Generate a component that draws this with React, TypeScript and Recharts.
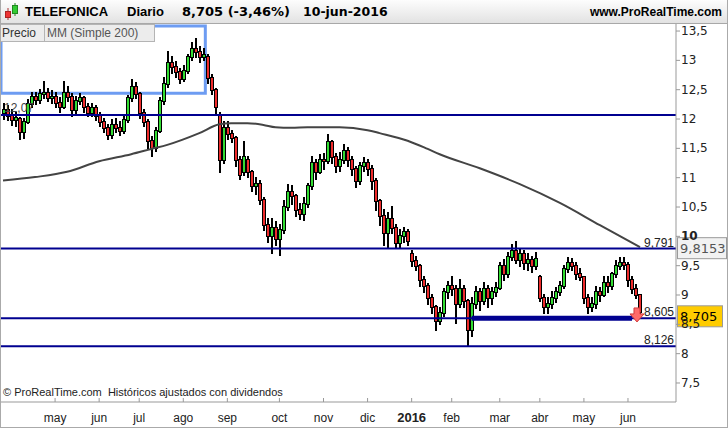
import React from 'react'
import {
  ComposedChart,
  Bar,
  Line,
  XAxis,
  YAxis,
  ReferenceLine,
  ReferenceArea,
  ReferenceDot,
} from 'recharts'

// daily candles, sampled from the chart (roughly one every two sessions)
const opens = [
  12.1, 12.15, 12.05, 11.98, 12.0, 11.78, 11.95, 12.25, 12.38, 12.32,
  12.42, 12.45, 12.35, 12.38, 12.28, 12.2, 12.45, 12.38, 12.15, 12.3,
  12.35, 12.2, 12.1, 12.18, 12.05, 11.95, 11.85, 11.72, 11.9, 11.85,
  11.8, 11.98, 12.35, 12.55, 12.42, 12.1, 11.95, 11.62, 11.5, 11.8,
  12.3, 12.6, 12.95, 12.88, 12.8, 12.68, 12.82, 13.05, 13.2, 13.15,
  13.05, 13.05, 12.7, 12.5, 12.05, 11.3, 11.85, 11.75, 11.68, 11.3,
  11.1, 11.3, 11.1, 10.85, 10.9, 10.62, 10.2, 10.0, 10.15, 9.95,
  10.1, 10.5, 10.75, 10.68, 10.45, 10.38, 10.55, 10.85, 11.25, 11.1,
  11.3, 11.28, 11.6, 11.35, 11.2, 11.3, 11.45, 11.3, 11.15, 10.95,
  11.2, 11.25, 11.15, 10.95, 10.6, 10.35, 10.05, 10.3, 10.15, 9.88,
  10.0, 10.08, 9.7, 9.58, 9.5, 9.25, 9.15, 8.95, 8.8, 8.55,
  8.7, 9.05, 9.15, 9.1, 8.85, 9.1, 8.9, 8.4, 8.85, 9.05,
  8.9, 9.1, 8.95, 9.05, 9.12, 9.5, 9.35, 9.65, 9.75, 9.6,
  9.7, 9.55, 9.6, 9.5, 9.3, 8.95, 8.8, 8.85, 8.95, 9.05,
  9.15, 9.45, 9.55, 9.5, 9.35, 9.3, 8.95, 8.8, 8.85, 9.05,
  9.0, 9.2, 9.15, 9.35, 9.5, 9.55, 9.52, 9.25, 9.1, 9.0,
]
const closes = [
  12.15, 12.05, 11.98, 12.02, 11.78, 11.95, 12.25, 12.38, 12.32, 12.42,
  12.45, 12.35, 12.38, 12.28, 12.2, 12.45, 12.38, 12.15, 12.3, 12.35,
  12.2, 12.1, 12.18, 12.05, 11.95, 11.85, 11.72, 11.9, 11.85, 11.8,
  11.98, 12.35, 12.55, 12.42, 12.1, 11.95, 11.62, 11.5, 11.8, 12.3,
  12.6, 12.95, 12.88, 12.8, 12.68, 12.82, 13.05, 13.2, 13.15, 13.05,
  13.1, 12.7, 12.5, 12.2, 11.3, 11.85, 11.75, 11.68, 11.3, 11.05,
  11.35, 11.1, 10.85, 10.9, 10.62, 10.2, 10.0, 10.15, 9.95, 10.1,
  10.5, 10.75, 10.68, 10.45, 10.38, 10.55, 10.85, 11.25, 11.1, 11.3,
  11.28, 11.6, 11.35, 11.2, 11.3, 11.45, 11.3, 11.15, 10.95, 11.2,
  11.25, 11.15, 10.95, 10.6, 10.35, 10.05, 10.3, 10.15, 9.88, 10.0,
  10.08, 9.92, 9.58, 9.5, 9.25, 9.15, 8.95, 8.8, 8.55, 8.7,
  9.05, 9.15, 9.1, 8.85, 9.1, 8.9, 8.4, 8.85, 9.05, 8.9,
  9.1, 8.95, 9.05, 9.12, 9.5, 9.35, 9.65, 9.75, 9.6, 9.7,
  9.55, 9.6, 9.5, 9.62, 8.95, 8.8, 8.85, 8.95, 9.05, 9.15,
  9.45, 9.55, 9.5, 9.35, 9.3, 8.95, 8.8, 8.85, 9.05, 9.0,
  9.2, 9.15, 9.35, 9.5, 9.55, 9.52, 9.25, 9.1, 9.0, 8.705,
]
const highs = [
  12.25, 12.22, 12.15, 12.1, 12.02, 12.0, 12.32, 12.45, 12.45, 12.5,
  12.63, 12.52, 12.48, 12.45, 12.35, 12.63, 12.55, 12.42, 12.38, 12.42,
  12.38, 12.25, 12.25, 12.22, 12.1, 12.0, 11.9, 11.98, 12.0, 11.95,
  12.05, 12.4, 12.66, 12.62, 12.45, 12.15, 11.98, 11.7, 11.85, 12.35,
  12.7, 13.15, 13.05, 12.98, 12.85, 12.9, 13.1, 13.3, 13.36, 13.22,
  13.2, 13.1, 12.75, 12.52, 12.1, 11.95, 11.95, 11.8, 11.7, 11.35,
  11.6, 11.35, 11.12, 11.0, 10.95, 10.65, 10.3, 10.3, 10.25, 10.2,
  10.6, 10.88, 10.85, 10.7, 10.55, 10.65, 10.9, 11.35, 11.3, 11.38,
  11.4, 11.73, 11.62, 11.4, 11.42, 11.56, 11.5, 11.35, 11.18, 11.25,
  11.33, 11.3, 11.2, 10.98, 10.62, 10.45, 10.4, 10.5, 10.2, 10.1,
  10.14, 10.1, 9.75, 9.65, 9.52, 9.3, 9.18, 9.0, 8.82, 8.78,
  9.1, 9.22, 9.3, 9.15, 9.25, 9.15, 8.92, 8.95, 9.14, 9.1,
  9.2, 9.15, 9.12, 9.2, 9.55, 9.6, 9.72, 9.85, 9.9, 9.77,
  9.75, 9.7, 9.65, 9.72, 9.32, 9.0, 8.95, 9.05, 9.12, 9.22,
  9.5, 9.63, 9.62, 9.55, 9.45, 9.3, 9.0, 8.95, 9.14, 9.12,
  9.3, 9.3, 9.38, 9.58, 9.63, 9.63, 9.55, 9.3, 9.17, 9.0,
]
const lows = [
  12.0, 11.98, 11.9, 11.88, 11.66, 11.68, 11.93, 12.2, 12.25, 12.28,
  12.35, 12.3, 12.28, 12.2, 12.12, 12.18, 12.3, 12.05, 12.1, 12.25,
  12.12, 12.05, 12.05, 11.98, 11.88, 11.78, 11.66, 11.68, 11.78, 11.72,
  11.76, 11.95, 12.3, 12.35, 12.02, 11.88, 11.5, 11.37, 11.45, 11.78,
  12.25, 12.55, 12.78, 12.72, 12.62, 12.64, 12.78, 13.0, 13.05, 12.98,
  13.0, 12.62, 12.42, 12.1, 11.1, 11.25, 11.66, 11.6, 11.2, 10.98,
  11.05, 11.02, 10.78, 10.72, 10.55, 10.1, 9.9, 9.72, 9.85, 9.68,
  10.05, 10.45, 10.55, 10.35, 10.3, 10.28, 10.5, 10.8, 10.98, 11.08,
  11.15, 11.25, 11.25, 11.1, 11.12, 11.25, 11.2, 11.05, 10.84, 10.9,
  11.12, 11.05, 10.8, 10.45, 10.2, 9.85, 9.82, 10.05, 9.8, 9.82,
  9.9, 9.85, 9.5, 9.42, 9.15, 9.05, 8.85, 8.69, 8.4, 8.5,
  8.65, 8.95, 9.0, 8.52, 8.8, 8.8, 8.13, 8.3, 8.78, 8.74,
  8.85, 8.8, 8.85, 8.98, 9.1, 9.25, 9.3, 9.6, 9.55, 9.5,
  9.45, 9.43, 9.4, 9.45, 8.9, 8.69, 8.7, 8.78, 8.88, 9.0,
  9.12, 9.4, 9.42, 9.28, 9.25, 8.86, 8.69, 8.72, 8.78, 8.9,
  8.98, 9.05, 9.1, 9.3, 9.45, 9.45, 9.15, 9.03, 8.95, 8.69,
]

// MM (Simple 200), read at a few candles
const maIndex = [0, 8, 16, 24, 32, 37, 41, 49, 54, 57, 61, 65, 68, 72, 76, 84, 91, 94, 101, 106, 109, 119, 129, 139, 149, 159]
const maValue = [10.95, 11.01, 11.1, 11.28, 11.4, 11.49, 11.56, 11.76, 11.91, 11.93, 11.93, 11.9, 11.86, 11.85, 11.86, 11.86, 11.81, 11.76, 11.63, 11.49, 11.4, 11.16, 10.89, 10.57, 10.19, 9.8153]

const monthIdx = [13, 24, 34, 45, 56, 69, 80, 91, 102, 112, 124, 134, 145, 156]
const monthLabels = ['may', 'jun', 'jul', 'ago', 'sep', 'oct', 'nov', 'dic', '2016', 'feb', 'mar', 'abr', 'may', 'jun']

const yTicks = [7.5, 8, 8.5, 9, 9.5, 10, 10.5, 11, 11.5, 12, 12.5, 13, 13.5]

const levels = [12.07, 9.791, 8.605, 8.126]
const levelLabels = ['12,07', '9,791', '8,605', '8,126']

const lastClose = 8.705
const lastMa = 9.8153

const data = closes.map((c, i) => {
  const k = maIndex.indexOf(i)
  return {
    i,
    o: opens[i],
    h: highs[i],
    l: lows[i],
    c,
    range: [lows[i], highs[i]],
    ma: k >= 0 ? maValue[k] : null,
  }
})

const fmt = (v: number) => String(v).replace('.', ',')

const SANS = '"Liberation Sans", Arial, sans-serif'
const DEJAVU = '"DejaVu Sans", sans-serif'

function Candle(props: any) {
  const { x, y, width, height, payload } = props
  if (x == null || !payload) return null
  const { o, h, l, c } = payload
  const cx = Math.round(x + width / 2)
  const span = h - l || 1
  const toY = (p: number) => y + ((h - p) / span) * height
  const top = Math.round(toY(Math.max(o, c)))
  const bot = Math.round(toY(Math.min(o, c)))
  const yh = Math.round(y)
  const yl = Math.round(y + height)
  const up = c >= o
  return (
    <g shapeRendering="crispEdges">
      <rect x={cx - 1} y={yh - 1} width={2} height={Math.max(1, yl - yh + 2)} fill="#000" />
      <rect x={cx - 2} y={top - 1} width={4} height={Math.max(2, bot - top + 2)} fill="#000" />
      {bot - top >= 1 && (
        <rect x={cx - 1} y={top} width={2} height={bot - top} fill={up ? '#33dd33' : '#ee2c2c'} />
      )}
    </g>
  )
}

function YTick(props: any) {
  const { x, y, payload } = props
  const v = payload.value
  return (
    <text x={x} y={y + 4} fontSize={12} fontFamily={DEJAVU} fill="#222" fontWeight={v === 10 ? 'bold' : 'normal'}>
      {fmt(v)}
    </text>
  )
}

function XTick(props: any) {
  const { x, y, payload } = props
  const k = monthIdx.indexOf(payload.value)
  const label = k >= 0 ? monthLabels[k] : ''
  const bold = label === '2016'
  return (
    <g>
      <line x1={x} x2={x} y1={y - 4} y2={y} stroke="#999" />
      <text
        x={x}
        y={y + 20}
        textAnchor="middle"
        fontSize={bold ? 13 : 12}
        fontWeight={bold ? 'bold' : 'normal'}
        fontFamily={SANS}
        fill="#222"
      >
        {label}
      </text>
    </g>
  )
}

function ValueBox(props: any) {
  const { viewBox, text, bg, color, w, dy } = props
  if (!viewBox) return null
  const x = viewBox.x + viewBox.width + 1
  const cy = viewBox.y + (dy || 0)
  return (
    <g>
      <rect x={x + 0.5} y={cy - 10.5} width={w} height={21} fill={bg} stroke="#9a9a9a" />
      <text x={x + 3} y={cy + 5} fontSize={13} fontFamily={DEJAVU} fill={color}>
        {text}
      </text>
    </g>
  )
}

function Arrow(props: any) {
  const { cx, cy } = props
  if (cx == null) return null
  const ax = cx - 3
  return (
    <path
      d={`M${ax - 3},${cy - 7} L${ax + 3},${cy - 7} L${ax + 3},${cy - 1} L${ax + 7},${cy - 1} L${ax},${cy + 7} L${ax - 7},${cy - 1} L${ax - 3},${cy - 1} Z`}
      fill="#ff6a6a"
      stroke="#d23a3a"
      strokeWidth={1}
    />
  )
}

export default function App() {
  return (
    <div
      style={{
        position: 'absolute',
        left: 0,
        top: 0,
        width: 728,
        height: 428,
        background: '#fff',
        fontFamily: SANS,
        overflow: 'hidden',
      }}
    >
      <ComposedChart
        width={728}
        height={428}
        data={data}
        margin={{ top: 24, right: 0, bottom: 0, left: 1 }}
        style={{ fontFamily: SANS }}
      >
        <XAxis
          dataKey="i"
          type="category"
          ticks={monthIdx}
          interval={0}
          tick={<XTick />}
          tickLine={false}
          tickSize={0}
          tickMargin={0}
          height={26}
          padding={{ left: 0, right: 34 }}
          axisLine={{ stroke: '#999' }}
        />
        <YAxis
          orientation="right"
          type="number"
          domain={[7.176, 13.62]}
          allowDataOverflow
          ticks={yTicks}
          interval={0}
          width={52}
          tick={<YTick />}
          tickSize={4}
          tickMargin={1}
          tickLine={{ stroke: '#999' }}
          axisLine={{ stroke: '#999' }}
        />
        <ReferenceArea
          x2={50}
          y1={12.438}
          y2={13.585}
          fill="none"
          stroke="#6d9cf2"
          strokeWidth={3}
          ifOverflow="visible"
        />
        <Bar
          dataKey="range"
          barSize={3}
          shape={(p: any) => <Candle {...p} />}
          isAnimationActive={false}
        />
        <Line
          dataKey="ma"
          type="monotone"
          stroke="#444"
          strokeWidth={2}
          dot={false}
          activeDot={false}
          connectNulls
          isAnimationActive={false}
        />
        <ReferenceLine
          y={levels[0]}
          stroke="#000090"
          strokeWidth={2}
          label={{ value: levelLabels[0], position: 'insideBottomLeft', offset: 3, fontSize: 12, fill: '#444' }}
        />
        {levels.slice(1).map((lv, k) => (
          <ReferenceLine
            key={lv}
            y={lv}
            stroke="#000090"
            strokeWidth={2}
            label={{ value: levelLabels[k + 1], position: 'insideBottomRight', offset: 2, fontSize: 12, fill: '#222' }}
          />
        ))}
        <ReferenceLine
          segment={[
            { x: 117, y: levels[2] },
            { x: 157, y: levels[2] },
          ]}
          stroke="#000090"
          strokeWidth={5}
        />
        <ReferenceDot x={159} y={8.66} r={0} shape={(p: any) => <Arrow {...p} />} />
        <ReferenceLine
          y={lastMa}
          stroke="none"
          label={<ValueBox text={fmt(lastMa)} bg="#f2f2f2" color="#555" w={49} dy={1} />}
        />
        <ReferenceLine
          y={lastClose}
          stroke="none"
          label={<ValueBox text={fmt(lastClose)} bg="#ffcc00" color="#000" w={45} dy={4} />}
        />
      </ComposedChart>

      {/* header bar */}
      <div
        style={{
          position: 'absolute',
          left: 0,
          top: 0,
          width: 728,
          height: 23,
          background: 'linear-gradient(#fdfdfd, #e2e2e2)',
          borderBottom: '1px solid #a8a8a8',
          fontWeight: 'bold',
          fontSize: 13,
          color: '#000',
        }}
      >
        <svg width={18} height={20} style={{ position: 'absolute', left: 3, top: 2 }}>
          <line x1={5} x2={5} y1={6} y2={18} stroke="#a33" />
          <rect x={2.5} y={9.5} width={5} height={6} fill="#e33" stroke="#a22" />
          <line x1={12} x2={12} y1={1} y2={14} stroke="#282" />
          <rect x={9.5} y={3.5} width={5} height={8} fill="#3c3" stroke="#282" />
        </svg>
        <span style={{ position: 'absolute', left: 25, top: 4 }}>TELEFONICA</span>
        <span style={{ position: 'absolute', left: 127, top: 4 }}>Diario</span>
        <span style={{ position: 'absolute', left: 182, top: 4, fontFamily: DEJAVU }}>8,705 (-3,46%)</span>
        <span style={{ position: 'absolute', left: 303, top: 4, fontFamily: DEJAVU, fontSize: 12.5 }}>10-jun-2016</span>
        <span style={{ position: 'absolute', right: 6, top: 5, fontSize: 12 }}>www.ProRealTime.com</span>
      </div>

      {/* indicator tabs */}
      <div style={{ position: 'absolute', left: 0, top: 24, height: 17, display: 'flex', fontSize: 12 }}>
        <div
          style={{
            width: 42,
            height: 16,
            background: '#ececec',
            border: '1px solid #b4b4b4',
            color: '#333',
            paddingLeft: 1,
            lineHeight: '16px',
          }}
        >
          Precio
        </div>
        <div
          style={{
            width: 107,
            height: 16,
            background: '#ececec',
            border: '1px solid #b4b4b4',
            borderLeft: 'none',
            color: '#555',
            paddingLeft: 2,
            lineHeight: '16px',
          }}
        >
          MM (Simple 200)
        </div>
      </div>

      <div style={{ position: 'absolute', left: 3, top: 386, fontSize: 11, color: '#222', whiteSpace: 'nowrap' }}>
        © ProRealTime.com&nbsp; Históricos ajustados con dividendos
      </div>

      <div
        style={{
          position: 'absolute',
          left: 0,
          top: 0,
          width: 728,
          height: 428,
          boxSizing: 'border-box',
          borderLeft: '1px solid #aaa',
          borderRight: '1px solid #aaa',
          borderBottom: '1px solid #aaa',
          pointerEvents: 'none',
        }}
      />
    </div>
  )
}
